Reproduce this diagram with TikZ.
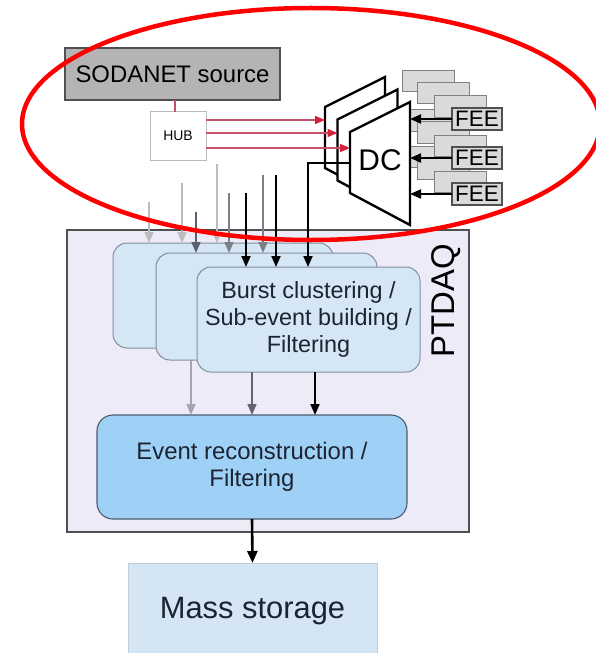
\documentclass[tikz,border=0pt]{standalone}
\usepackage{fontspec}
\setmainfont{Liberation Sans}
\usetikzlibrary{arrows.meta}
\definecolor{sodagray}{HTML}{B4B4B4}
\definecolor{sodadraw}{HTML}{505050}
\definecolor{hubdraw}{HTML}{BBBBBB}
\definecolor{hubred}{HTML}{C8506A}
\definecolor{tipred}{HTML}{D0203A}
\definecolor{ptbg}{HTML}{EEEBF8}
\definecolor{ptdraw}{HTML}{505050}
\definecolor{burstfill}{HTML}{D5E7F4}
\definecolor{burstdraw}{HTML}{7F8FA0}
\definecolor{evfill}{HTML}{9FD0F6}
\definecolor{evdraw}{HTML}{4C5C6C}
\definecolor{msfill}{HTML}{D4E5F4}
\definecolor{msdraw}{HTML}{C4CCD4}
\definecolor{boxgray}{HTML}{DADADA}
\definecolor{boxgraydraw}{HTML}{808080}
\definecolor{textnavy}{HTML}{1C2433}
\definecolor{arrlight}{HTML}{BDBDBD}
\definecolor{arrmid}{HTML}{7A7F88}
\definecolor{arrdark}{HTML}{5A6070}
\definecolor{arrout}{HTML}{A4A2B4}
\begin{document}
\begin{tikzpicture}[x=1bp,y=-1bp,
  box/.style={draw, inner sep=0pt, outer sep=0pt, align=center},
  burst/.style={box, fill=burstfill, draw=burstdraw, line width=1bp, rounded corners=14bp},
  arr/.style={line width=1.6bp, -{Triangle[length=11bp,width=9bp]}},
  blackarr/.style={arr, black, line width=1.9bp},
  redarr/.style={hubred, line width=1.5bp, -{Triangle[length=10bp,width=8bp,color=tipred]}},
  graybox/.style={box, fill=boxgray, draw=boxgraydraw, line width=1bp, minimum width=52bp, minimum height=21bp},
  feebox/.style={box, fill=boxgray, draw=sodadraw, line width=1.4bp, minimum width=50bp, minimum height=22bp, font=\fontsize{22.5}{24}\selectfont},
  dcline/.style={draw=black, fill=white, line width=2.4bp, line join=miter}
]
\useasboundingbox (0,0) rectangle (596,653);

% PTDAQ frame
\node[box, fill=ptbg, draw=ptdraw, line width=1.3bp, minimum width=402bp, minimum height=302bp] (ptdaq) at (268,381) {};
\node[rotate=90, font=\fontsize{33}{35}\selectfont] (ptlabel) at (446,301) {PTDAQ};

% burst boxes
\node[burst, minimum width=220bp, minimum height=105bp] (back) at (223,295.5) {};
\node[burst, minimum width=221bp, minimum height=107bp] (mid) at (266.5,306.5) {};
\node[burst, minimum width=223bp, minimum height=105bp, text=textnavy,
      font=\fontsize{23.5}{27.5}\selectfont] (front) at (308.5,319.5)
      {Burst clustering /\\Sub-event building /\\Filtering};

% event reconstruction
\node[box, fill=evfill, draw=evdraw, line width=1.1bp, rounded corners=16bp,
      minimum width=310bp, minimum height=104bp, text=textnavy,
      font=\fontsize{24}{27}\selectfont] (event) at (252,467)
      {Event reconstruction /\\Filtering};

% mass storage
\node[box, fill=msfill, draw=msdraw, line width=1bp, minimum width=249bp, minimum height=110bp] (ms) at (252.5,618) {};
\node[text=textnavy, font=\fontsize{31}{33}\selectfont] (mstext) at (252.5,611) {Mass storage};

% arrows into the burst boxes
\foreach \x/\y/\t/\c in {149/202/back/arrlight, 182/183/back/arrlight, 196/212/mid/arrdark,
                        217/164/back/arrlight, 229/193/mid/arrmid, 263/175/mid/arrmid}{
  \coordinate (in\x) at (\x,\y);
  \draw[arr, \c] (in\x) -- (in\x |- \t.north);
}
\foreach \x/\y in {246/193, 276/175}{
  \coordinate (in\x) at (\x,\y);
  \draw[blackarr] (in\x) -- (in\x |- front.north);
}

% arrows to event reconstruction
\coordinate (o1) at (191,0);
\coordinate (o2) at (252,0);
\coordinate (o3) at (315,0);
\draw[arr, arrout] (o1 |- mid.south) -- (o1 |- event.north);
\draw[arr, arrmid!80!black] (o2 |- front.south) -- (o2 |- event.north);
\draw[blackarr] (o3 |- front.south) -- (o3 |- event.north);

% event -> mass storage
\draw[black, line width=2.6bp, -{Triangle[length=12bp,width=10bp]}] (event.south) -- (ms.north);

% SODANET and HUB
\node[box, fill=sodagray, draw=sodadraw, line width=1.2bp, minimum width=215bp, minimum height=52bp,
      font=\fontsize{24}{27}\selectfont] (soda) at (172.5,74) {SODANET source};
\node[box, fill=white, draw=hubdraw, line width=1bp, minimum width=56bp, minimum height=48bp,
      font=\fontsize{14}{16}\selectfont] (hub) at (178,136) {HUB};
\coordinate (hubtap) at (175,112);
\draw[hubred, line width=1.2bp] (hubtap) -- (hubtap |- soda.south);

% FEE stacks
\foreach \y/\n in {183/3, 147/2, 108/1}{
  \node[graybox] (g\n a) at (428,{\y-26.5}) {};
  \node[graybox] (g\n b) at (443,{\y-14.5}) {};
  \node[graybox] (g\n c) at (460,{\y-1.5}) {};
  \node[feebox] (fee\n) at (477,{\y+11}) {FEE};
}

% DC trapezoids
\foreach \d in {25,12.5,0}{
  \draw[dcline] ({350-\d},{132-\d}) -- ({410-\d},{102-\d}) -- ({410-\d},{225-\d}) -- ({350-\d},{193-\d}) -- cycle;
}
\node[font=\fontsize{30}{32}\selectfont] (dc) at (380,160) {DC};

% red arrows from HUB to DC planes
\coordinate (dc1l) at (325,120);
\coordinate (dc2l) at (337.5,133);
\coordinate (dc3l) at (350,148);
\foreach \n in {1,2,3}{
  \draw[redarr] (hub.east |- dc\n l) -- (dc\n l);
}

% FEE -> DC arrows
\coordinate (dcright) at (410,0);
\foreach \n in {1,2,3}{
  \draw[blackarr] (fee\n.west) -- (fee\n.west -| dcright);
}

% DC -> burst
\coordinate (dcout) at (350,163);
\coordinate (in308) at (308,0);
\draw[blackarr] (dcout) -| (in308 |- front.north);

% highlight ellipse
\draw[red, line width=4.5bp] (311,124) ellipse [x radius=289, y radius=116];
\end{tikzpicture}
\end{document}
